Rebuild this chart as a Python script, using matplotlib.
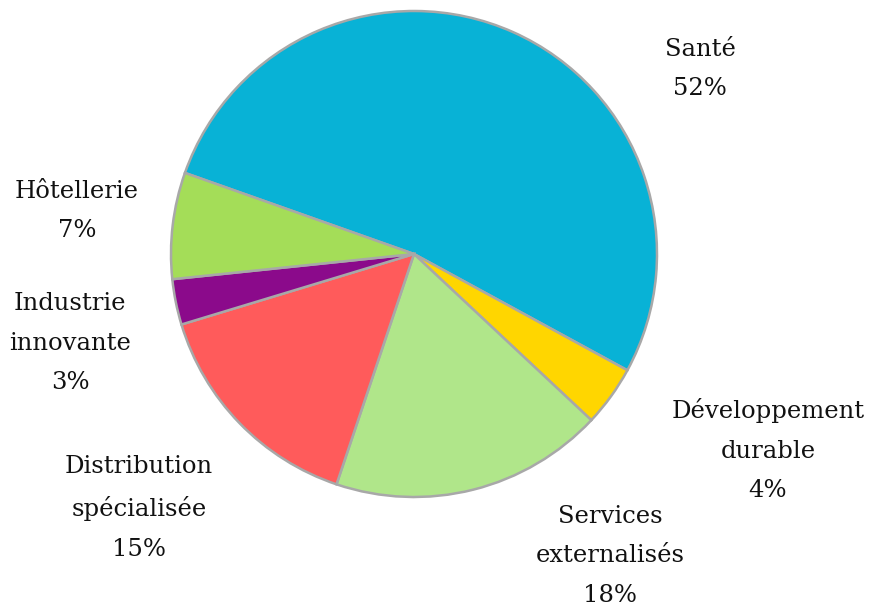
import matplotlib
matplotlib.use("Agg")
import matplotlib.pyplot as plt

# data
sectors = ["Santé", "Développement\ndurable", "Services\nexternalisés",
           "Distribution\nspécialisée", "Industrie\ninnovante", "Hôtellerie"]
shares = [52, 4, 18, 15, 3, 7]
colors = ["#08B2D6", "#FFD600", "#B0E68A", "#FF5B5B", "#8B0A8B", "#A4DD58"]

# label centres in pixel coords (x, y from top)
label_pos = [(700, 69), (768, 450), (610, 556), (139, 508), (70, 343), (77, 211)]

W, H = 874, 607
fig = plt.figure(figsize=(W / 100, H / 100), dpi=100)
ax = fig.add_axes([0, 0, 1, 1])

ax.pie(shares, colors=colors, startangle=160.5, counterclock=False,
       center=(414, H - 254), radius=243, frame=True,
       wedgeprops=dict(edgecolor="#A8A8A8", linewidth=1.8))
ax.set_xlim(0, W)
ax.set_ylim(0, H)
ax.set_aspect("equal")
ax.axis("off")

for name, pct, (x, y) in zip(sectors, shares, label_pos):
    ax.text(x, H - y, f"{name}\n{pct}%", ha="center", va="center",
            fontsize=17.5, family="DejaVu Serif", linespacing=1.9, color="#111111")

fig.savefig("out.png", dpi=100)
